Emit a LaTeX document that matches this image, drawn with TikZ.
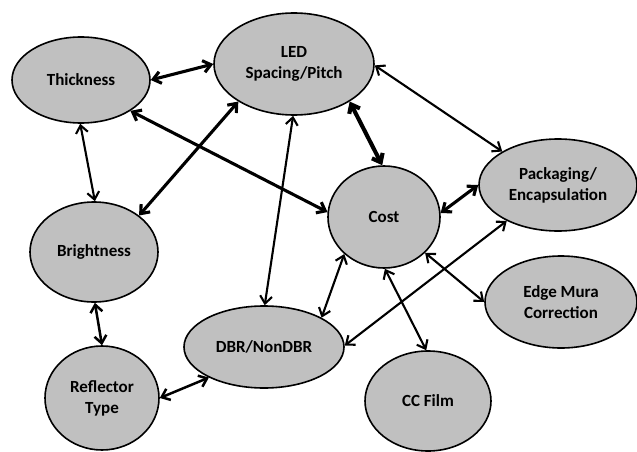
\documentclass[tikz,border=0pt]{standalone}
\usepackage{fontspec}
\setmainfont{Carlito}
\usetikzlibrary{shapes.geometric,arrows.meta}
\definecolor{nodegray}{HTML}{C0C0C0}
\begin{document}
\begin{tikzpicture}[x=1pt,y=-1pt,
  bubble/.style={ellipse, draw=black, line width=1.6pt, fill=nodegray, inner sep=0pt,
    align=center, font=\fontsize{17}{21}\selectfont\bfseries},
  link/.style={{Straight Barb[length=7.5pt,width=12pt]}-{Straight Barb[length=7.5pt,width=12pt]}, line width=2.1pt},
  linkm/.style={link, line width=2.5pt},
  linkt/.style={link, line width=3.1pt},
  linkx/.style={link, line width=4.1pt}]
\useasboundingbox (0,0) rectangle (637,452);
\node[bubble, minimum width=138pt, minimum height=86pt] (thick) at (81,80) {Thickness};
\node[bubble, minimum width=160pt, minimum height=102pt] (led) at (294,64) {LED\\Spacing/Pitch};
\node[bubble, minimum width=128pt, minimum height=100pt] (bright) at (94,252) {Brightness};
\node[bubble, minimum width=114pt, minimum height=104pt] (refl) at (102,398) {Reflector\\Type};
\node[bubble, minimum width=160pt, minimum height=82pt] (dbr) at (264,347) {DBR/NonDBR};
\node[bubble, minimum width=112pt, minimum height=102pt] (cost) at (384,217) {Cost};
\node[bubble, minimum width=158pt, minimum height=92pt] (pack) at (558,185) {Packaging/\\Encapsulation};
\node[bubble, minimum width=152pt, minimum height=92pt] (edge) at (561,302) {Edge Mura\\Correction};
\node[bubble, minimum width=126pt, minimum height=100pt] (cc) at (428,401) {CC Film};

\draw[linkt] (thick.0) -- (led.180);
\draw[linkt] (thick.-32) -- (cost.175);
\draw[link] (thick.-91) -- (bright.89);
\draw[linkt] (led.-146) -- (bright.39);
\draw[link] (led.-91) -- (dbr.89);
\draw[linkx] (led.-34) -- (cost.92);
\draw[link] (led.-1) -- (pack.149);
\draw[linkt] (cost.4) -- (pack.180);
\draw[link] (cost.-137) -- (dbr.27);
\draw[link] (pack.-145) -- (dbr.1);
\draw[link] (cost.-41) -- (edge.180);
\draw[link] (cost.-89) -- (cc.92);
\draw[linkm] (bright.-89) -- (refl.90);
\draw[linkm] (refl.0) -- (dbr.-151);
\end{tikzpicture}
\end{document}
